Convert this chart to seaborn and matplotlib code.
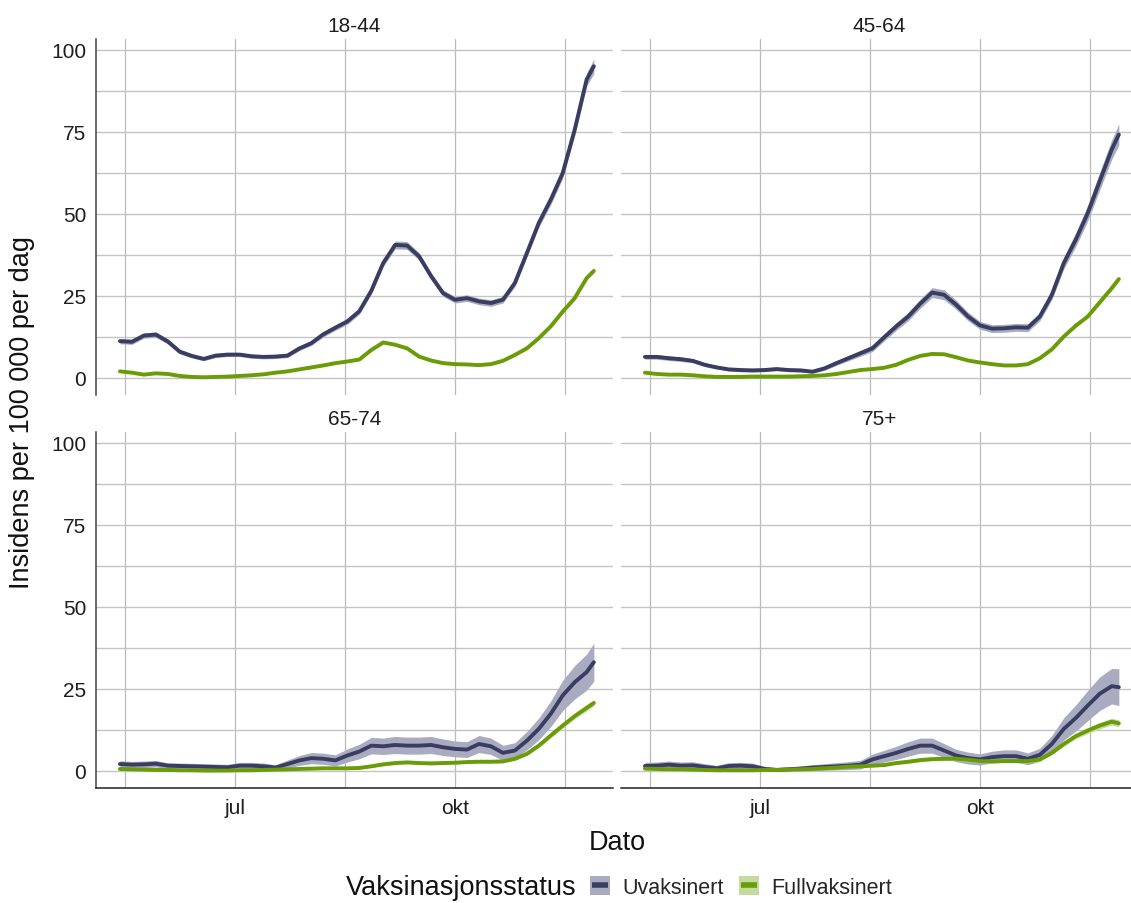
import matplotlib
matplotlib.use("Agg")
import matplotlib.pyplot as plt
from matplotlib.legend_handler import HandlerTuple
from matplotlib.lines import Line2D
from matplotlib.patches import Patch
import pandas as pd
import seaborn as sns


# 5-day steps from 14 May, plus the last day of the series
DATES = pd.date_range("2021-05-14", periods=40, freq="5D").append(pd.DatetimeIndex(["2021-11-28"]))
AGE_GROUPS = ["18-44", "45-64", "65-74", "75+"]
STATUSES = ["Uvaksinert", "Fullvaksinert"]

UVAK_18_44 = [11.2, 11.0, 12.9, 13.2, 11.1, 8.0, 6.7, 5.8, 6.8, 7.1, 7.1, 6.6, 6.4, 6.5, 6.8, 9.0, 10.6,
              13.3, 15.3, 17.2, 20.3, 26.5, 35.0, 40.5, 40.3, 37.0, 31.0, 25.8, 23.8, 24.3, 23.3, 22.8,
              23.8, 28.9, 38.0, 47.2, 54.3, 62.4, 75.6, 90.9, 94.9]
FULL_18_44 = [2.0, 1.6, 1.0, 1.4, 1.2, 0.6, 0.3, 0.2, 0.3, 0.4, 0.6, 0.8, 1.1, 1.6, 2.0, 2.6, 3.2, 3.8,
              4.5, 5.0, 5.6, 8.5, 10.8, 10.1, 9.0, 6.5, 5.3, 4.5, 4.2, 4.1, 3.9, 4.2, 5.2, 7.0, 9.0, 12.1,
              15.7, 20.2, 24.3, 30.4, 32.6]
UVAK_45_64 = [6.4, 6.4, 6.0, 5.7, 5.2, 4.0, 3.2, 2.6, 2.4, 2.3, 2.4, 2.7, 2.4, 2.3, 1.9, 2.9, 4.5, 6.0,
              7.5, 9.0, 12.4, 15.7, 18.7, 22.6, 26.0, 25.3, 22.3, 18.7, 16.0, 15.0, 15.1, 15.4, 15.3,
              18.7, 25.3, 35.0, 42.1, 50.2, 59.9, 69.5, 74.1]
FULL_45_64 = [1.6, 1.2, 1.0, 1.0, 0.8, 0.5, 0.3, 0.3, 0.3, 0.4, 0.4, 0.4, 0.4, 0.5, 0.6, 0.8, 1.2, 1.8,
              2.4, 2.7, 3.1, 4.0, 5.5, 6.7, 7.3, 7.2, 6.3, 5.3, 4.7, 4.2, 3.8, 3.8, 4.2, 6.0, 8.7, 12.6,
              15.9, 18.7, 23.0, 27.3, 30.1]
UVAK_65_74 = [2.1, 1.9, 2.0, 2.2, 1.6, 1.5, 1.4, 1.3, 1.2, 1.1, 1.6, 1.6, 1.4, 1.0, 2.1, 3.2, 3.9, 3.7,
              3.2, 4.7, 5.9, 7.7, 7.5, 7.9, 7.7, 7.7, 7.9, 7.2, 6.7, 6.5, 8.2, 7.5, 5.5, 6.2, 9.2, 12.8,
              17.4, 23.0, 27.0, 30.1, 33.1]
FULL_65_74 = [0.6, 0.5, 0.4, 0.3, 0.3, 0.2, 0.2, 0.1, 0.1, 0.1, 0.2, 0.2, 0.3, 0.4, 0.5, 0.6, 0.7, 0.8,
              0.8, 0.8, 0.9, 1.4, 2.0, 2.4, 2.6, 2.4, 2.3, 2.4, 2.5, 2.7, 2.8, 2.8, 2.9, 3.7, 5.2, 7.7,
              10.8, 13.8, 16.7, 19.2, 20.7]
UVAK_75 = [1.5, 1.6, 1.9, 1.6, 1.7, 1.2, 0.8, 1.5, 1.6, 1.4, 0.6, 0.3, 0.5, 0.7, 1.0, 1.2, 1.4, 1.6,
           1.9, 3.5, 4.5, 5.5, 6.7, 7.7, 7.7, 6.2, 4.7, 3.9, 3.5, 4.2, 4.5, 4.5, 3.7, 4.9, 8.2, 12.8,
           16.1, 19.9, 23.5, 25.8, 25.5]
FULL_75 = [0.7, 0.6, 0.5, 0.5, 0.4, 0.3, 0.2, 0.2, 0.2, 0.2, 0.3, 0.3, 0.4, 0.5, 0.6, 0.8, 1.0, 1.3,
           1.4, 1.6, 1.8, 2.4, 2.8, 3.3, 3.6, 3.7, 3.7, 3.4, 3.0, 2.9, 3.0, 3.0, 3.0, 3.5, 5.5, 8.2,
           10.6, 12.3, 13.8, 15.0, 14.5]

# half-width of the confidence band
UVAK_18_44_CI = [0.8, 0.8, 0.8, 0.8, 0.8, 0.7, 0.6, 0.6, 0.6, 0.6, 0.6, 0.6, 0.6, 0.6, 0.6, 0.7, 0.7,
                 0.8, 0.8, 0.9, 0.9, 1.0, 1.1, 1.2, 1.2, 1.1, 1.1, 1.0, 1.0, 1.0, 1.0, 1.0, 1.0, 1.1,
                 1.2, 1.3, 1.5, 1.6, 1.8, 2.0, 2.2]
FULL_18_44_CI = [0.3, 0.3, 0.2, 0.2, 0.2, 0.2, 0.1, 0.1, 0.1, 0.1, 0.1, 0.1, 0.2, 0.2, 0.2, 0.2, 0.2,
                 0.3, 0.3, 0.3, 0.3, 0.4, 0.4, 0.4, 0.4, 0.3, 0.3, 0.3, 0.3, 0.3, 0.3, 0.3, 0.3, 0.3,
                 0.4, 0.4, 0.5, 0.5, 0.6, 0.6, 0.7]
UVAK_45_64_CI = [0.7, 0.7, 0.7, 0.7, 0.6, 0.6, 0.5, 0.5, 0.5, 0.5, 0.5, 0.5, 0.5, 0.5, 0.5, 0.6, 0.7,
                 0.8, 0.9, 1.0, 1.1, 1.2, 1.3, 1.4, 1.5, 1.5, 1.4, 1.3, 1.2, 1.2, 1.2, 1.2, 1.2, 1.3,
                 1.5, 1.8, 2.1, 2.4, 2.7, 3.0, 3.2]
FULL_45_64_CI = [0.2, 0.2, 0.2, 0.2, 0.2, 0.1, 0.1, 0.1, 0.1, 0.1, 0.1, 0.1, 0.1, 0.1, 0.1, 0.1, 0.2,
                 0.2, 0.2, 0.2, 0.3, 0.3, 0.3, 0.3, 0.3, 0.3, 0.3, 0.3, 0.3, 0.3, 0.3, 0.3, 0.3, 0.3,
                 0.4, 0.4, 0.5, 0.5, 0.6, 0.6, 0.7]
UVAK_65_74_CI = [1.0, 1.0, 1.0, 1.0, 0.9, 0.9, 0.9, 0.9, 0.9, 0.9, 1.0, 1.0, 1.0, 0.9, 1.2, 1.5, 1.7,
                 1.7, 1.7, 2.0, 2.2, 2.5, 2.5, 2.6, 2.6, 2.6, 2.6, 2.5, 2.4, 2.4, 2.6, 2.5, 2.3, 2.4,
                 2.8, 3.3, 3.9, 4.6, 5.1, 5.5, 5.8]
FULL_65_74_CI = [0.3, 0.3, 0.2, 0.2, 0.2, 0.2, 0.2, 0.1, 0.1, 0.1, 0.1, 0.1, 0.2, 0.2, 0.2, 0.2, 0.2,
                 0.2, 0.2, 0.2, 0.3, 0.3, 0.4, 0.4, 0.4, 0.4, 0.4, 0.4, 0.4, 0.4, 0.4, 0.4, 0.4, 0.5,
                 0.5, 0.6, 0.7, 0.8, 0.8, 0.9, 0.9]
UVAK_75_CI = [1.1, 1.1, 1.1, 1.1, 1.1, 1.0, 0.9, 1.0, 1.0, 1.0, 0.8, 0.7, 0.7, 0.8, 0.9, 1.0, 1.1,
              1.2, 1.3, 1.6, 1.8, 2.0, 2.2, 2.3, 2.3, 2.1, 1.9, 1.8, 1.7, 1.8, 1.9, 1.9, 1.8, 2.0,
              2.6, 3.4, 4.0, 4.6, 5.1, 5.4, 5.6]
FULL_75_CI = [0.3, 0.3, 0.3, 0.3, 0.2, 0.2, 0.2, 0.2, 0.2, 0.2, 0.2, 0.2, 0.2, 0.2, 0.3, 0.3, 0.3,
              0.3, 0.3, 0.4, 0.4, 0.4, 0.5, 0.5, 0.5, 0.5, 0.5, 0.5, 0.5, 0.5, 0.5, 0.5, 0.5, 0.5,
              0.6, 0.7, 0.8, 0.9, 1.0, 1.0, 1.1]

SERIES = {
    "18-44": (UVAK_18_44, FULL_18_44, UVAK_18_44_CI, FULL_18_44_CI),
    "45-64": (UVAK_45_64, FULL_45_64, UVAK_45_64_CI, FULL_45_64_CI),
    "65-74": (UVAK_65_74, FULL_65_74, UVAK_65_74_CI, FULL_65_74_CI),
    "75+": (UVAK_75, FULL_75, UVAK_75_CI, FULL_75_CI),
}

LINE_COLORS = {"Uvaksinert": "#3a3d62", "Fullvaksinert": "#6a9c08"}
BAND_COLORS = {"Uvaksinert": "#a9acc0", "Fullvaksinert": "#c4dba0"}

W, H = 1131, 904
# panel boxes in pixels: left, top
PANEL_PX = {"18-44": (96, 40), "45-64": (621, 40), "65-74": (96, 433), "75+": (621, 433)}
PANEL_W, PANEL_H = 517, 356


def build_frame() -> pd.DataFrame:
    rows = []
    for age, (uvak, full, uvak_ci, full_ci) in SERIES.items():
        for status, vals, ci in [("Uvaksinert", uvak, uvak_ci), ("Fullvaksinert", full, full_ci)]:
            for d, v, c in zip(DATES, vals, ci):
                rows.append({"Dato": d, "Alder": age, "Status": status,
                             "Insidens": v, "lo": max(v - c, 0), "hi": v + c})
    return pd.DataFrame(rows)


def main() -> None:
    sns.set_theme(style="white")
    plt.rcParams["font.family"] = ["Liberation Sans", "DejaVu Sans"]

    df = build_frame()
    fig = plt.figure(figsize=(W / 100, H / 100), dpi=100)

    majors = [pd.Timestamp("2021-07-01"), pd.Timestamp("2021-10-01")]
    minors = [pd.Timestamp("2021-05-16"), pd.Timestamp("2021-08-16"), pd.Timestamp("2021-11-16")]

    for i, age in enumerate(AGE_GROUPS):
        left, top = PANEL_PX[age]
        ax = fig.add_axes([left / W, 1 - (top + PANEL_H) / H, PANEL_W / W, PANEL_H / H])
        sub = df[df["Alder"] == age]

        for status in STATUSES:
            s = sub[sub["Status"] == status]
            ax.fill_between(s["Dato"], s["lo"], s["hi"], color=BAND_COLORS[status],
                            linewidth=0, zorder=2)
        sns.lineplot(data=sub, x="Dato", y="Insidens", hue="Status", hue_order=STATUSES,
                     palette=LINE_COLORS, estimator=None, linewidth=2.8, legend=False,
                     ax=ax, zorder=3)

        ax.set_xlim(pd.Timestamp("2021-05-04"), pd.Timestamp("2021-12-06"))
        ax.set_ylim(-5.2, 103.2)
        ax.set_xticks(majors)
        ax.set_xticks(minors, minor=True)
        ax.set_xticklabels(["jul", "okt"])
        ax.set_yticks([0, 25, 50, 75, 100])
        ax.set_yticks([12.5, 37.5, 62.5, 87.5], minor=True)
        ax.set_xlabel("")
        ax.set_ylabel("")

        ax.grid(which="both", axis="y", color="#c4c4c4", linewidth=1.0)
        ax.grid(which="both", axis="x", color="#bababa", linewidth=0.9)
        ax.set_axisbelow(True)
        ax.set_facecolor("white")
        for sp in ax.spines.values():
            sp.set_visible(False)

        ax.tick_params(which="minor", length=0)
        ax.tick_params(axis="both", which="major", labelsize=15, colors="#1e1e1e",
                       length=4, width=0.9, pad=3)

        is_left = i % 2 == 0
        is_bottom = i >= 2
        if is_left:
            ax.spines["left"].set_visible(True)
            ax.spines["left"].set_color("#444444")
            ax.spines["left"].set_linewidth(1.1)
        else:
            ax.tick_params(axis="y", labelleft=False, length=0)
        if is_bottom:
            ax.spines["bottom"].set_visible(True)
            ax.spines["bottom"].set_color("#222222")
            ax.spines["bottom"].set_linewidth(1.1)
        else:
            ax.tick_params(axis="x", labelbottom=False, length=0)

        ax.set_title(age, fontsize=15, color="#1e1e1e", pad=6)

    fig.text(22 / W, 1 - 413 / H, "Insidens per 100 000 per dag", rotation=90,
             ha="center", va="center", fontsize=19.5, color="#111111")
    fig.text(617 / W, 1 - 843 / H, "Dato", ha="center", va="center", fontsize=19.5,
             color="#111111")
    fig.text(577 / W, 1 - 888 / H, "Vaksinasjonsstatus", ha="right", va="center",
             fontsize=19.5, color="#111111")

    handles = [(Patch(facecolor=BAND_COLORS[s], edgecolor="none"),
                Line2D([], [], linestyle="none", marker="_", markersize=12,
                       markeredgewidth=4, color=LINE_COLORS[s])) for s in STATUSES]
    fig.legend(handles, STATUSES, loc="center left", bbox_to_anchor=(590 / W, 1 - 888 / H),
               ncol=2, frameon=False, fontsize=15.5, handlelength=0.95, handleheight=0.95,
               handletextpad=0.55, columnspacing=0.7, borderaxespad=0, borderpad=0,
               numpoints=1, handler_map={tuple: HandlerTuple(ndivide=1)})

    fig.savefig("out.png", dpi=100, facecolor="white")


if __name__ == "__main__":
    main()
